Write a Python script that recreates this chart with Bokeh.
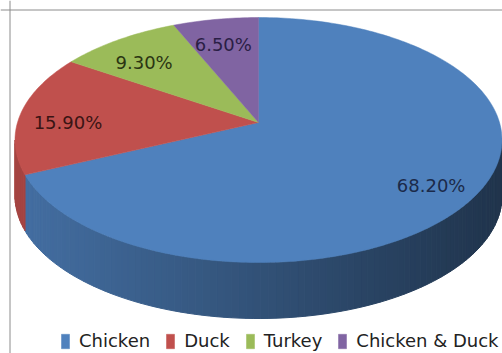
import math
from bokeh.plotting import figure
from bokeh.models import Range1d, Legend, LegendItem, Span, ColumnDataSource
from bokeh.core.properties import value
from bokeh.embed import file_html
from bokeh.resources import INLINE

# ---- data ----
categories = ["Chicken", "Duck", "Turkey", "Chicken & Duck"]
shares = [68.2, 15.9, 9.3, 6.5]
labels = ["68.20%", "15.90%", "9.30%", "6.50%"]

# ---- styles ----
colors = ["#4F81BD", "#C0504D", "#9BBB59", "#8064A2"]
label_colors = ["#1B2A4A", "#3A1414", "#2A3512", "#2A1E45"]
FONT = "DejaVu Sans"

W, H = 502, 353
CX, CY = 258.0, 122.0      # centre of the top face
A, B, K = 241.0, 120.0, 0.143  # radii and perspective
DEPTH = 56.0
LABEL_R = 0.8
LABEL_DY = 7.0

def proj(theta_deg, f=1.0):
    t = math.radians(theta_deg)
    u = f * math.sin(t)
    v = -f * math.cos(t)
    d = 1.0 - K * v
    return CX + A * u / d, CY + B * v / d

def hexmul(c, fac):
    r, g, b = int(c[1:3], 16), int(c[3:5], 16), int(c[5:7], 16)
    return "#%02x%02x%02x" % tuple(max(0, min(255, int(round(x * fac)))) for x in (r, g, b))

p = figure(width=W, height=H, output_backend="svg", toolbar_location=None,
           x_range=Range1d(0, W), y_range=Range1d(H, 0),
           min_border=0, outline_line_color=None)
p.axis.visible = False
p.grid.visible = False
p.background_fill_color = "white"
p.border_fill_color = "white"

# slice angle ranges (clockwise from 12 o'clock)
total = sum(shares)
bounds = []
acc = 0.0
for s in shares:
    a0 = acc / total * 360.0
    acc += s
    a1 = acc / total * 360.0
    bounds.append((a0, a1))

# visible front side between silhouette angles
th_right = math.degrees(math.acos(-K))
th_left = 360.0 - th_right
xl = proj(th_left)[0]
xr = proj(th_right)[0]

side_xs, side_ys, side_cols = [], [], []
for (a0, a1), col in zip(bounds, colors):
    lo, hi = max(a0, th_right), min(a1, th_left)
    if hi <= lo:
        continue
    n = max(2, int((hi - lo) / 1.5))
    for i in range(n):
        t0 = lo + (hi - lo) * i / n
        t1 = lo + (hi - lo) * (i + 1) / n
        x0, y0 = proj(t0)
        x1, y1 = proj(t1)
        side_xs.append([x0, x1, x1, x0])
        side_ys.append([y0, y1, y1 + DEPTH, y0 + DEPTH])
        tt = ((x0 + x1) / 2 - xl) / (xr - xl)
        side_cols.append(hexmul(col, 0.86 - 0.46 * tt))

p.patches(side_xs, side_ys, fill_color=side_cols, line_color=side_cols, line_width=1)

# top faces
renderers = []
for (a0, a1), col in zip(bounds, colors):
    n = max(3, int((a1 - a0) / 1.0))
    xs, ys = [CX], [CY]
    for i in range(n + 1):
        x, y = proj(a0 + (a1 - a0) * i / n)
        xs.append(x)
        ys.append(y)
    r = p.patch(xs, ys, fill_color=col, line_color=col, line_width=0.5)
    renderers.append(r)

# data labels
lx, ly = [], []
for (a0, a1) in bounds:
    x, y = proj((a0 + a1) / 2, LABEL_R)
    lx.append(x)
    ly.append(y + LABEL_DY)
src = ColumnDataSource(dict(x=lx, y=ly, t=labels, c=label_colors))
p.text(x="x", y="y", text="t", text_color="c", source=src,
       text_font=value(FONT), text_font_size="18px",
       text_align="center", text_baseline="middle")

# chart-area border (left and top)
p.add_layout(Span(location=9.5, dimension="height", line_color="#8c8c8c", line_width=1))
p.add_layout(Span(location=9.5, dimension="width", line_color="#8c8c8c", line_width=1))

legend = Legend(items=[LegendItem(label=c, renderers=[r]) for c, r in zip(categories, renderers)],
                orientation="horizontal", location=(60, 2),
                label_text_font=FONT, label_text_font_size="18px", label_text_color="#222222",
                glyph_width=10, glyph_height=18, label_standoff=9, spacing=15,
                padding=0, margin=0, border_line_color=None, background_fill_alpha=0)
p.add_layout(legend, "center")

open("out.html", "w").write(file_html(p, INLINE))
